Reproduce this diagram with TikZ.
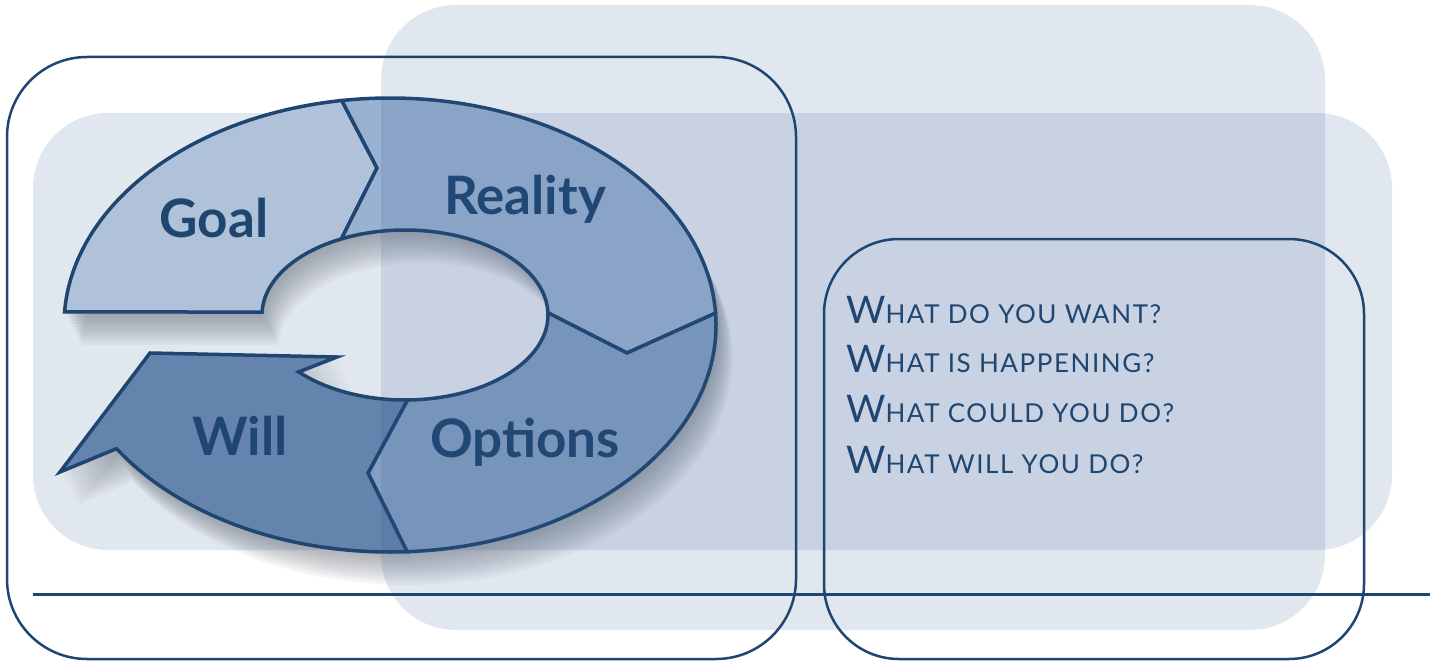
\documentclass[tikz,border=0pt]{standalone}
\usepackage{fontspec}
\newfontfamily\ringfont{Lato}
\newfontfamily\askfont{Lato}[LetterSpace=6]
\definecolor{navy}{HTML}{1F4571}
\definecolor{panelc}{HTML}{2E5590}
\definecolor{goalc}{HTML}{AFC2DA}
\definecolor{realc}{HTML}{9AB2D1}
\definecolor{optc}{HTML}{849FC3}
\definecolor{willc}{HTML}{6584AD}
\definecolor{shadowc}{HTML}{4A505C}

% fake small caps: first letter big, rest in upper case, smaller
\newcommand\smc[2]{{\fontsize{38}{40}\selectfont #1}{\fontsize{26}{30}\selectfont\MakeUppercase{#2}}}

% ring segments, pixel coordinates, y downwards
\newcommand\goalseg{([shift={(390,325)}]183.3:326 and 227) arc[start angle=183.3, end angle=261.5, x radius=326, y radius=227] -- (377,168) -- ([shift={(405,315)}]243.6:143 and 85) arc[start angle=243.6, end angle=182, x radius=143, y radius=85] -- cycle}
\newcommand\realseg{([shift={(390,325)}]261.5:326 and 227) arc[start angle=261.5, end angle=357, x radius=326, y radius=227] -- (627,353) -- ([shift={(405,315)}]358.5:143 and 85) arc[start angle=358.5, end angle=243.6, x radius=143, y radius=85] -- (377,168) -- cycle}
\newcommand\optseg{([shift={(390,325)}]-3:326 and 227) arc[start angle=-3, end angle=87, x radius=326, y radius=227] -- (368,473) -- ([shift={(405,315)}]89:143 and 85) arc[start angle=89, end angle=-1.5, x radius=143, y radius=85] -- (627,353) -- cycle}
\newcommand\willseg{([shift={(390,325)}]87:326 and 227) arc[start angle=87, end angle=147, x radius=326, y radius=227] -- (60,472) -- (150,353) -- (337,357) -- ([shift={(405,315)}]138:143 and 85) arc[start angle=138, end angle=89, x radius=143, y radius=85] -- (368,473) -- cycle}

\tikzset{
  panel/.style={fill=panelc, fill opacity=.14, rounded corners=75},
  frame/.style={draw=navy, line width=2.5pt, rounded corners=80},
  seg/.style={draw=navy, line width=3.5pt, line join=miter},
  lbl/.style={anchor=base, inner sep=0, text=navy, font=\ringfont\bfseries\fontsize{53}{56}\selectfont},
  ask/.style={anchor=base west, inner sep=0, text=navy, font=\askfont},
}

\begin{document}
\begin{tikzpicture}[x=1pt, y=-1pt]
  \useasboundingbox (0,0) rectangle (1438,661);

  % back panel, wide
  \fill[panel] (33,113) rectangle (1392,550);

  % soft shadow of the ring
  \foreach \k in {3,6,...,33} {
    \fill[shadowc, opacity=.05, shift={(0.5*\k,\k)}] \goalseg;
    \fill[shadowc, opacity=.05, shift={(0.5*\k,\k)}] \realseg;
    \fill[shadowc, opacity=.05, shift={(0.5*\k,\k)}] \optseg;
    \fill[shadowc, opacity=.05, shift={(0.5*\k,\k)}] \willseg;
  }

  % the ring
  \filldraw[seg, fill=goalc] \goalseg;
  \filldraw[seg, fill=realc] \realseg;
  \filldraw[seg, fill=optc] \optseg;
  \filldraw[seg, fill=willc] \willseg;

  \node[lbl] (goal) at (214,237) {Goal};
  \node[lbl] (reality) at (525,214) {Reality};
  \node[lbl] (will) at (240,455) {Will};
  \node[lbl] (options) at (525,457) {Options};

  % back panel, tall
  \fill[panel] (381,5) rectangle (1325,630);

  % frames and rule
  \draw[frame] (7,57) rectangle (796,659);
  \draw[frame, rounded corners=75] (824,239) rectangle (1364,659);
  \draw[navy, line width=3pt] (33,594) -- (1430,594);

  % questions
  \node[ask] (q1) at (846,323) {\smc{W}{hat do you want?}};
  \node[ask] (q2) at (846,372) {\smc{W}{hat is happening?}};
  \node[ask] (q3) at (846,422) {\smc{W}{hat could you do?}};
  \node[ask] (q4) at (846,473) {\smc{W}{hat will you do?}};
\end{tikzpicture}
\end{document}
